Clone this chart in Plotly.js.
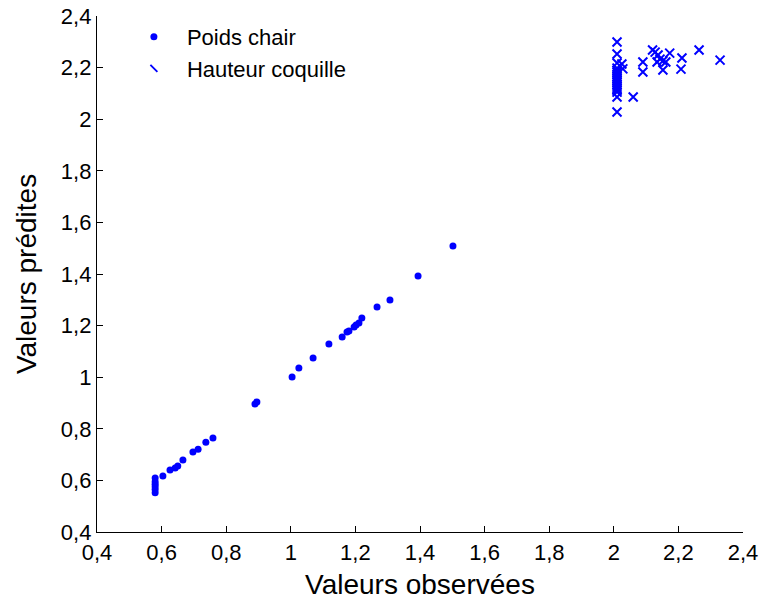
<!DOCTYPE html>
<html>
<head>
<meta charset="utf-8">
<script src="https://cdn.plot.ly/plotly-3.0.1.min.js"></script>
<style>html,body{margin:0;padding:0;background:#fff;}#chart{width:766px;height:606px;}</style>
</head>
<body>
<div id="chart"></div>
<script>
// Poids chair: observed vs predicted
var poidsObs  = [0.58, 0.58, 0.58, 0.58, 0.58, 0.58, 0.604, 0.626, 0.642, 0.65, 0.666, 0.697, 0.713, 0.737, 0.759,
                 0.889, 0.895, 1.004, 1.025, 1.069, 1.118, 1.159, 1.174, 1.180, 1.196, 1.202, 1.211, 1.220, 1.267, 1.307, 1.394, 1.502];
var poidsPred = [0.609, 0.595, 0.585, 0.575, 0.565, 0.552, 0.617, 0.640, 0.648, 0.656, 0.679, 0.710, 0.721, 0.748, 0.764,
                 0.896, 0.904, 1.001, 1.036, 1.074, 1.129, 1.156, 1.175, 1.179, 1.195, 1.202, 1.210, 1.229, 1.272, 1.299, 1.392, 1.509];
// Hauteur coquille: observed vs predicted
var hautObs  = [2.01, 2.01, 2.01, 2.01, 2.01, 2.01, 2.01, 2.01, 2.01, 2.01, 2.01, 2.01, 2.01, 2.01, 2.01, 2.01, 2.01, 2.01,
                2.025, 2.028, 2.06, 2.09, 2.09, 2.12, 2.128, 2.137, 2.143, 2.152, 2.161, 2.134, 2.152, 2.173, 2.211, 2.208, 2.264, 2.329];
var hautPred = [2.299, 2.253, 2.218, 2.198, 2.190, 2.182, 2.174, 2.166, 2.159, 2.151, 2.143, 2.135, 2.128, 2.120, 2.112, 2.105, 2.086, 2.028,
                2.214, 2.195, 2.086, 2.222, 2.183, 2.268, 2.260, 2.249, 2.233, 2.226, 2.222, 2.222, 2.191, 2.256, 2.237, 2.194, 2.268, 2.229];
var tickVals = [0.4, 0.6, 0.8, 1, 1.2, 1.4, 1.6, 1.8, 2, 2.2, 2.4];
var tickText = ["0,4", "0,6", "0,8", "1", "1,2", "1,4", "1,6", "1,8", "2", "2,2", "2,4"];
var seriesNames = ["Poids chair", "Hauteur coquille"];

var blue = "#0000ff";
var FONT = "Liberation Sans, Arial, sans-serif";

var traces = [
  {x: poidsObs, y: poidsPred, type: "scatter", mode: "markers", name: seriesNames[0],
   marker: {symbol: "circle", size: 7, color: blue}, cliponaxis: false},
  {x: hautObs, y: hautPred, type: "scatter", mode: "markers", name: seriesNames[1], showlegend: false,
   marker: {symbol: "x-thin", size: 9, color: blue, line: {color: blue, width: 2}}, cliponaxis: false},
  {x: [null], y: [null], type: "scatter", mode: "markers", name: seriesNames[1], showlegend: true,
   marker: {symbol: "line-nw", size: 7, color: blue, line: {color: blue, width: 1.8}}}
];

function axis(title, standoff) {
  return {
    range: [0.4, 2.4], tickvals: tickVals, ticktext: tickText,
    ticks: "inside", ticklen: 6, tickwidth: 1, tickcolor: "#000",
    showline: true, linecolor: "#000", linewidth: 1.2, mirror: false,
    showgrid: false, zeroline: false,
    tickfont: {family: FONT, size: 22, color: "#000"},
    title: {text: title, font: {family: FONT, size: 28, color: "#000"}, standoff: standoff},
    fixedrange: true
  };
}

var layout = {
  width: 766, height: 606,
  margin: {l: 97, r: 23, t: 16, b: 74, pad: 0},
  paper_bgcolor: "#fff", plot_bgcolor: "#fff",
  showlegend: true,
  xaxis: axis("Valeurs observées", 10),
  yaxis: axis("Valeurs prédites", 16),
  legend: {x: 0.037, y: 1.0, xanchor: "left", yanchor: "top", itemwidth: 56,
           bgcolor: "rgba(0,0,0,0)", borderwidth: 0,
           font: {family: FONT, size: 22, color: "#000"}, tracegroupgap: 0}
};

Plotly.newPlot("chart", traces, layout, {staticPlot: true, displayModeBar: false});
</script>
</body>
</html>
